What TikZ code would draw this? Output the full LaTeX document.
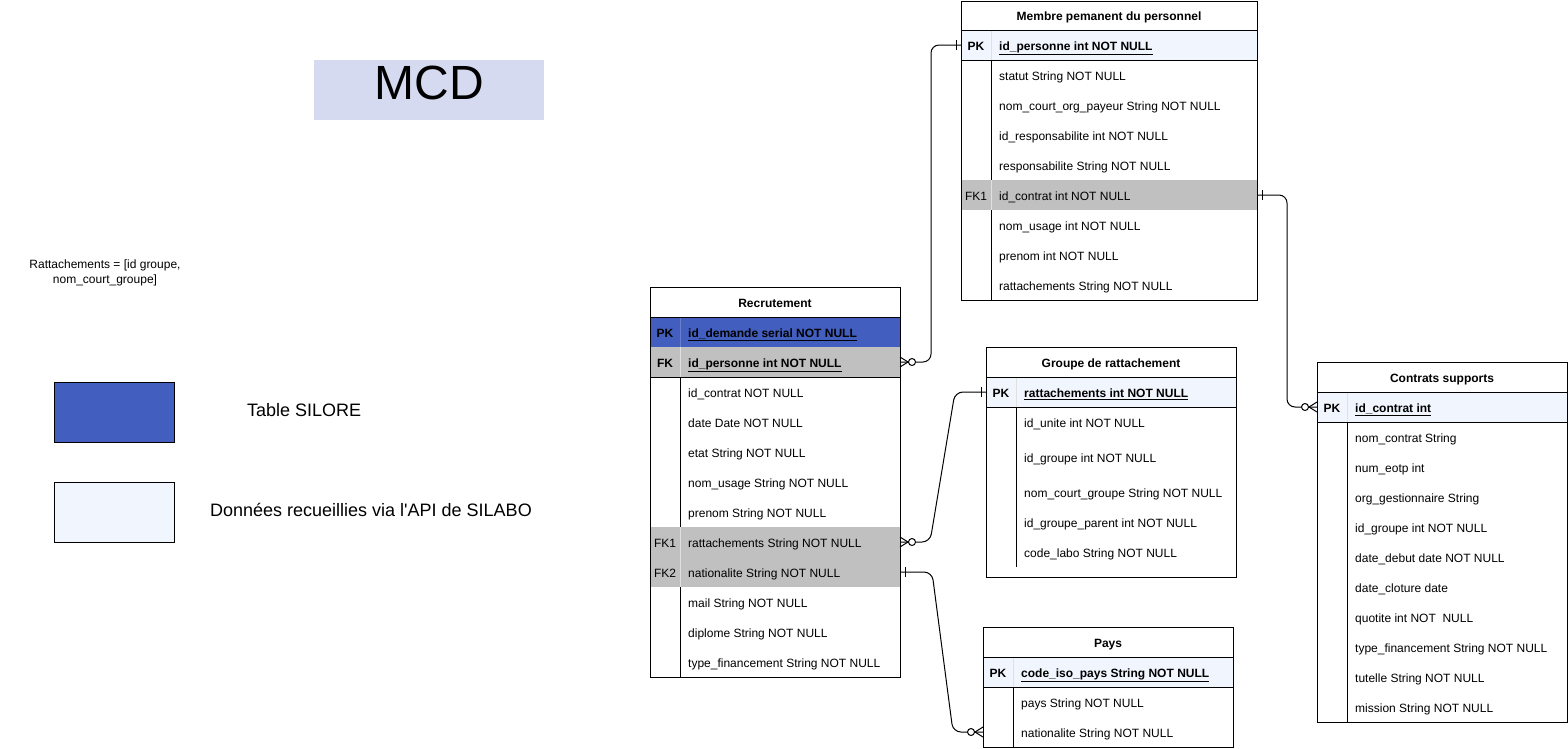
\documentclass[tikz,border=0pt]{standalone}
\usepackage{fontspec}
\setmainfont{Liberation Sans}
\usetikzlibrary{calc}
\definecolor{pkblue}{RGB}{66,94,190}
\definecolor{pklight}{RGB}{240,245,254}
\definecolor{fkgray}{RGB}{192,192,192}
\definecolor{mcdbg}{RGB}{213,218,240}
\definecolor{sepline}{RGB}{225,225,225}
\tikzset{
  rowbg/.style={draw=none, inner sep=0pt, outer sep=0pt, anchor=north west},
  hdr/.style={draw=none, inner sep=0pt, outer sep=0pt, anchor=north west, font=\fontsize{12}{14}\selectfont\bfseries, text height=10.6pt, text depth=0pt},
  keytxt/.style={inner sep=0pt, anchor=center, font=\fontsize{12}{14}\selectfont, text height=10.6pt, text depth=0pt},
  fieldtxt/.style={inner sep=0pt, anchor=west, font=\fontsize{12}{14}\selectfont, text height=10.6pt, text depth=0pt},
  tbl/.style={draw=black, line width=1pt},
  sepl/.style={draw=sepline, line width=1pt},
  conn/.style={draw=black, line width=1pt, rounded corners=8pt},
  ermark/.style={draw=black, line width=1pt},
  legbox/.style={draw=black, line width=1pt, minimum width=120pt, minimum height=60pt, anchor=north west, inner sep=0pt},
  legtxt/.style={inner sep=0pt, anchor=west, font=\fontsize{18}{21}\selectfont},
}
\newcommand\tabrow[8]{%
  \node[rowbg, fill=#6, minimum width=#4pt, minimum height=#5pt] (#1) at (#2,#3) {};
  \node[keytxt] at ($(#1.west)+(15,0)$) {#7};
  \node[fieldtxt] at ($(#1.west)+(38,0)$) {#8};
}
\newcommand\zeromany[2]{%
  \draw[ermark] ($(#1)+(0,-5)$) -- ($(#1)+(#2*8,0)$) -- ($(#1)+(0,5)$);
  \draw[ermark, fill=white] ($(#1)+(#2*12,0)$) circle (3.5pt);
}
\newcommand\onemark[2]{%
  \draw[ermark] ($(#1)+(#2*5,-5)$) -- ($(#1)+(#2*5,5)$);
}
\begin{document}
\begin{tikzpicture}[x=1pt, y=-1pt]
\useasboundingbox (0,0) rectangle (1568,748);

% ---------- MCD title ----------
\node[fill=mcdbg, minimum width=230pt, minimum height=60pt, anchor=north west, inner sep=0pt, font=\fontsize{48}{48}\selectfont, text depth=14pt] (mcd) at (314,60) {MCD};

% ---------- note ----------
\node[align=center, inner sep=0pt, font=\fontsize{12}{15}\selectfont] (note) at (105,273) {Rattachements = [id groupe,\\nom\_court\_groupe]};

% ---------- legend ----------
\node[legbox, fill=pkblue] (leg1) at (54,382) {};
\node[legtxt] (leg1t) at (247,410) {Table SILORE};
\node[legbox, fill=pklight] (leg2) at (54,482) {};
\node[legtxt] (leg2t) at (210,510) {Données recueillies via l\textquotesingle API de SILABO};

% ---------- Membre pemanent du personnel ----------
\node[hdr, minimum width=296pt, minimum height=29pt] (mem-h) at (961,1) {Membre pemanent du personnel};
\tabrow{mem-pk}{961}{30}{296}{30}{pklight}{\textbf{PK}}{\underline{\textbf{id\_personne int NOT NULL}}}
\tabrow{mem-r1}{961}{60}{296}{30}{white}{}{statut String NOT NULL}
\tabrow{mem-r2}{961}{90}{296}{30}{white}{}{nom\_court\_org\_payeur String NOT NULL}
\tabrow{mem-r3}{961}{120}{296}{30}{white}{}{id\_responsabilite int NOT NULL}
\tabrow{mem-r4}{961}{150}{296}{30}{white}{}{responsabilite String NOT NULL}
\tabrow{mem-fk1}{961}{180}{296}{30}{fkgray}{FK1}{id\_contrat int NOT NULL}
\tabrow{mem-r6}{961}{210}{296}{30}{white}{}{nom\_usage int NOT NULL}
\tabrow{mem-r7}{961}{240}{296}{30}{white}{}{prenom int NOT NULL}
\tabrow{mem-r8}{961}{270}{296}{30}{white}{}{rattachements String NOT NULL}
\draw[sepl] (991,30) -- (991,60) (991,180) -- (991,210);
\draw[tbl] (991,60) -- (991,180) (991,210) -- (991,300);
\draw[tbl] (mem-h.south west) -- (mem-h.south east);
\draw[tbl] (mem-pk.south west) -- (mem-pk.south east);
\draw[tbl] (mem-h.north west) rectangle (mem-r8.south east);

% ---------- Recrutement ----------
\node[hdr, minimum width=250pt, minimum height=30pt] (rec-h) at (650,287) {Recrutement};
\tabrow{rec-pk}{650}{317}{250}{30}{pkblue}{\textbf{PK}}{\underline{\textbf{id\_demande serial NOT NULL}}}
\tabrow{rec-fk}{650}{347}{250}{30}{fkgray}{\textbf{FK}}{\underline{\textbf{id\_personne int NOT NULL}}}
\tabrow{rec-r1}{650}{377}{250}{30}{white}{}{id\_contrat NOT NULL}
\tabrow{rec-r2}{650}{407}{250}{30}{white}{}{date Date NOT NULL}
\tabrow{rec-r3}{650}{437}{250}{30}{white}{}{etat String NOT NULL}
\tabrow{rec-r4}{650}{467}{250}{30}{white}{}{nom\_usage String NOT NULL}
\tabrow{rec-r5}{650}{497}{250}{30}{white}{}{prenom String NOT NULL}
\tabrow{rec-fk1}{650}{527}{250}{30}{fkgray}{FK1}{rattachements String NOT NULL}
\tabrow{rec-fk2}{650}{557}{250}{30}{fkgray}{FK2}{nationalite String NOT NULL}
\tabrow{rec-r8}{650}{587}{250}{30}{white}{}{mail String NOT NULL}
\tabrow{rec-r9}{650}{617}{250}{30}{white}{}{diplome String NOT NULL}
\tabrow{rec-r10}{650}{647}{250}{30}{white}{}{type\_financement String NOT NULL}
\draw[draw=pkblue!80!white, line width=1pt] (680,317) -- (680,347);
\draw[sepl] (680,347) -- (680,377) (680,527) -- (680,587);
\draw[tbl] (680,377) -- (680,527) (680,587) -- (680,677);
\draw[tbl] (rec-h.south west) -- (rec-h.south east);
\draw[tbl] (rec-fk.south west) -- (rec-fk.south east);
\draw[tbl] (rec-h.north west) rectangle (rec-r10.south east);

% ---------- Groupe de rattachement ----------
\node[hdr, minimum width=250pt, minimum height=30pt] (grp-h) at (986,347) {Groupe de rattachement};
\tabrow{grp-pk}{986}{377}{250}{30}{pklight}{\textbf{PK}}{\underline{\textbf{rattachements int NOT NULL}}}
\tabrow{grp-r1}{986}{407}{250}{30}{white}{}{id\_unite int NOT NULL}
\tabrow{grp-r2}{986}{437}{250}{40}{white}{}{id\_groupe int NOT NULL}
\tabrow{grp-r3}{986}{477}{250}{30}{white}{}{nom\_court\_groupe String NOT NULL}
\tabrow{grp-r4}{986}{507}{250}{30}{white}{}{id\_groupe\_parent int NOT NULL}
\tabrow{grp-r5}{986}{537}{250}{30}{white}{}{code\_labo String NOT NULL}
\draw[sepl] (1016,377) -- (1016,407);
\draw[tbl] (1016,407) -- (1016,567);
\draw[tbl] (grp-h.south west) -- (grp-h.south east);
\draw[tbl] (grp-pk.south west) -- (grp-pk.south east);
\draw[tbl] (grp-h.north west) rectangle (1236,577);

% ---------- Contrats supports ----------
\node[hdr, minimum width=250pt, minimum height=30pt] (con-h) at (1317,362) {Contrats supports};
\tabrow{con-pk}{1317}{392}{250}{30}{pklight}{\textbf{PK}}{\underline{\textbf{id\_contrat int}}}
\tabrow{con-r1}{1317}{422}{250}{30}{white}{}{nom\_contrat String}
\tabrow{con-r2}{1317}{452}{250}{30}{white}{}{num\_eotp int}
\tabrow{con-r3}{1317}{482}{250}{30}{white}{}{org\_gestionnaire String}
\tabrow{con-r4}{1317}{512}{250}{30}{white}{}{id\_groupe int NOT NULL}
\tabrow{con-r5}{1317}{542}{250}{30}{white}{}{date\_debut date NOT NULL}
\tabrow{con-r6}{1317}{572}{250}{30}{white}{}{date\_cloture date}
\tabrow{con-r7}{1317}{602}{250}{30}{white}{}{quotite int NOT~ NULL}
\tabrow{con-r8}{1317}{632}{250}{30}{white}{}{type\_financement String NOT NULL}
\tabrow{con-r9}{1317}{662}{250}{30}{white}{}{tutelle String NOT NULL}
\tabrow{con-r10}{1317}{692}{250}{30}{white}{}{mission String NOT NULL}
\draw[sepl] (1347,392) -- (1347,422);
\draw[tbl] (1347,422) -- (1347,722);
\draw[tbl] (con-h.south west) -- (con-h.south east);
\draw[tbl] (con-pk.south west) -- (con-pk.south east);
\draw[tbl] (con-h.north west) rectangle (con-r10.south east);

% ---------- Pays ----------
\node[hdr, minimum width=250pt, minimum height=30pt] (pays-h) at (983,627) {Pays};
\tabrow{pays-pk}{983}{657}{250}{30}{pklight}{\textbf{PK}}{\underline{\textbf{code\_iso\_pays String NOT NULL}}}
\tabrow{pays-r1}{983}{687}{250}{30}{white}{}{pays String NOT NULL}
\tabrow{pays-nat}{983}{717}{250}{30}{white}{}{nationalite String NOT NULL}
\draw[sepl] (1013,657) -- (1013,687);
\draw[tbl] (1013,687) -- (1013,747);
\draw[tbl] (pays-h.south west) -- (pays-h.south east);
\draw[tbl] (pays-pk.south west) -- (pays-pk.south east);
\draw[tbl] (pays-h.north west) rectangle (pays-nat.south east);

% ---------- connectors ----------
\draw[conn] (rec-fk.east) -- ++(31,0) |- (mem-pk.west);
\draw[conn] (rec-fk1.east) -- ++(30,0) -- ($(grp-pk.west)+(-31,0)$) -- (grp-pk.west);
\draw[conn] (rec-fk2.east) -- ++(32,0) -- ($(pays-nat.west)+(-30,0)$) -- (pays-nat.west);
\draw[conn] (mem-fk1.east) -- ++(30,0) |- (con-pk.west);

\zeromany{rec-fk.east}{1}
\onemark{mem-pk.west}{-1}
\zeromany{rec-fk1.east}{1}
\onemark{grp-pk.west}{-1}
\onemark{rec-fk2.east}{1}
\zeromany{pays-nat.west}{-1}
\onemark{mem-fk1.east}{1}
\zeromany{con-pk.west}{-1}
\end{tikzpicture}
\end{document}
